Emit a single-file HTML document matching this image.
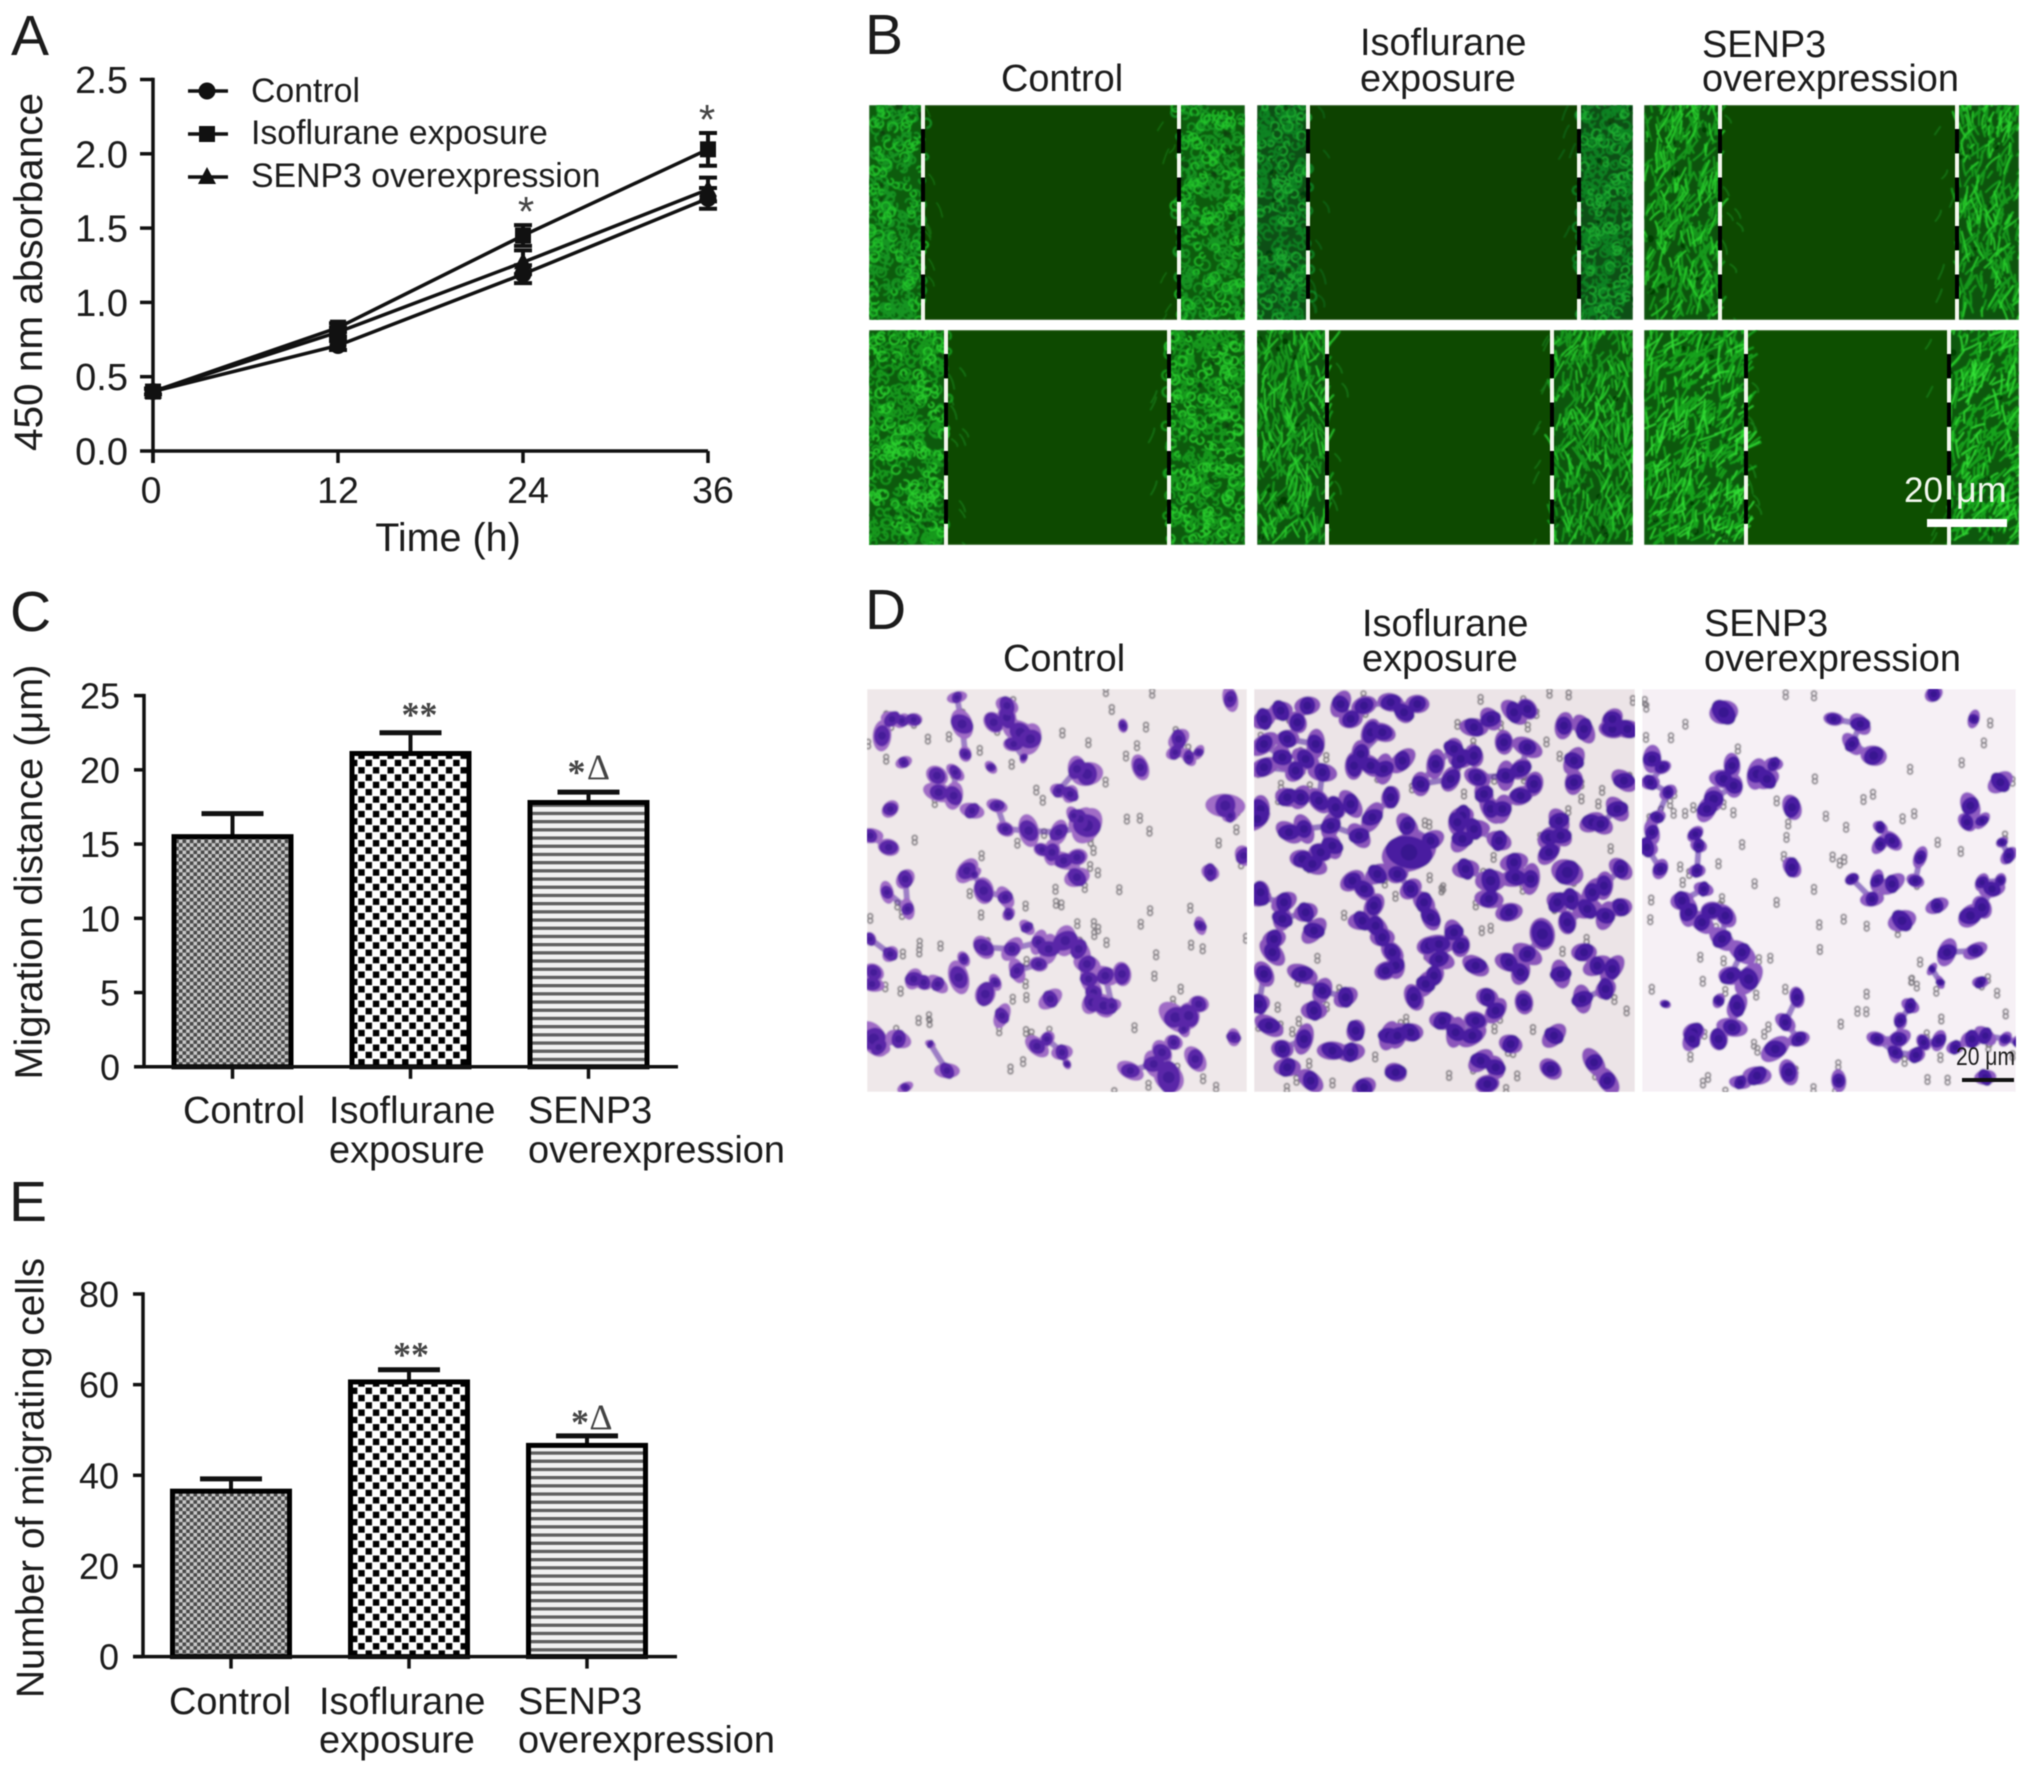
<!DOCTYPE html>
<html lang="en">
<head>
<meta charset="utf-8">
<title>Cell proliferation and migration figure</title>
<style>
html,body{margin:0;padding:0;background:#fff;width:2031px;height:1773px;overflow:hidden}
#figure{display:block;filter:blur(0.55px)}
text{font-family:"Liberation Sans",sans-serif;fill:#1c1c1c}
.letter{font-size:57px}
.head{font-size:37.9px}
.serif{font-family:"Liberation Serif",serif;fill:#444;font-weight:bold}
</style>
</head>
<body>
<svg id="figure" xmlns="http://www.w3.org/2000/svg" width="2031" height="1773" viewBox="0 0 2031 1773">
  <defs>
    <pattern id="fine-check" patternUnits="userSpaceOnUse" width="7.3" height="7.3">
      <rect width="7.3" height="7.3" fill="#c9c9c9"/>
      <rect width="3.65" height="3.65" fill="#484848"/>
      <rect x="3.65" y="3.65" width="3.65" height="3.65" fill="#484848"/>
    </pattern>
    <pattern id="coarse-check" patternUnits="userSpaceOnUse" width="14.6" height="14.6">
      <rect width="14.6" height="14.6" fill="#fff"/>
      <rect x="0.6" y="0.6" width="6.4" height="6.4" fill="#000"/>
      <rect x="7.9" y="7.9" width="6.4" height="6.4" fill="#000"/>
    </pattern>
    <pattern id="stripes" patternUnits="userSpaceOnUse" width="10" height="8.2">
      <rect width="10" height="8.2" fill="#f1f1f1"/>
      <rect width="10" height="3.3" fill="#606060"/>
    </pattern>
    <filter id="soft" x="-2%" y="-2%" width="104%" height="104%"><feGaussianBlur stdDeviation="0.8"/></filter>
    <clipPath id="clip-d1"><rect x="867" y="689" width="380" height="403"/></clipPath>
    <clipPath id="clip-d2"><rect x="1254" y="689" width="381" height="403"/></clipPath>
    <clipPath id="clip-d3"><rect x="1642" y="689" width="374" height="403"/></clipPath>
  </defs>

  <text class="letter" x="11" y="55">A</text>
  <text class="letter" x="865" y="54">B</text>
  <text class="letter" x="10" y="631">C</text>
  <text class="letter" x="865" y="629">D</text>
  <text class="letter" x="9" y="1221">E</text>

  <g id="panel-b">
    <g id="wound-tiles"></g>
    <text class="head" x="1001" y="91">Control</text>
    <text class="head" x="1360" y="55">Isoflurane</text>
    <text class="head" x="1360" y="91">exposure</text>
    <text class="head" x="1702" y="57">SENP3</text>
    <text class="head" x="1702" y="91">overexpression</text>
    <text x="1904" y="502" font-size="35" style="fill:#f2f7ee">20</text>
    <text x="1956" y="502" font-size="36" style="fill:#f2f7ee">μm</text>
    <rect x="1927" y="519" width="80" height="8" fill="#fff"/>
  </g>

  <g id="panel-d">
    <g id="transwell-tiles"></g>
    <text class="head" x="1003" y="671">Control</text>
    <text class="head" x="1362" y="636">Isoflurane</text>
    <text class="head" x="1362" y="671">exposure</text>
    <text class="head" x="1704" y="636">SENP3</text>
    <text class="head" x="1704" y="671">overexpression</text>
    <text x="1956" y="1065" font-size="25" textLength="59" lengthAdjust="spacingAndGlyphs">20 μm</text>
    <rect x="1962" y="1078" width="52" height="4" fill="#111"/>
  </g>

  <g id="chart-a"></g>
  <g id="chart-c"></g>
  <g id="chart-e"></g>
</svg>

<script>
/* ---------- chart data ---------- */
const timeValues = [0, 12, 24, 36];
const absorbanceTicks = [0, 0.5, 1, 1.5, 2, 2.5];
const absorbanceTickLabels = ['0.0', '0.5', '1.0', '1.5', '2.0', '2.5'];
const seriesNames = ['Control', 'Isoflurane exposure', 'SENP3 overexpression'];
const controlMeans = [0.40, 0.71, 1.19, 1.70];
const controlErrors = [0.02, 0.03, 0.06, 0.07];
const isofluraneMeans = [0.40, 0.83, 1.45, 2.03];
const isofluraneErrors = [0.02, 0.03, 0.07, 0.11];
const senp3Means = [0.40, 0.80, 1.27, 1.76];
const senp3Errors = [0.02, 0.03, 0.08, 0.08];
const significantTimes = [24, 36];

const categoryLines = [['Control'], ['Isoflurane', 'exposure'], ['SENP3', 'overexpression']];
const distanceTicks = [0, 5, 10, 15, 20, 25];
const distanceMeans = [15.5, 21.1, 17.8];
const distanceUpper = [17.05, 22.5, 18.5];
const cellTicks = [0, 20, 40, 60, 80];
const cellMeans = [36.5, 60.6, 46.6];
const cellUpper = [39.2, 63.3, 48.7];

const SVGNS = 'http://www.w3.org/2000/svg';
function mk(tag, attrs, parent) {
  const el = document.createElementNS(SVGNS, tag);
  for (const k in attrs) el.setAttribute(k, attrs[k]);
  parent.appendChild(el);
  return el;
}
function axisLine(parent, x1, y1, x2, y2, name, width) {
  const el = mk('line', {x1: x1, y1: y1, x2: x2, y2: y2, stroke: '#111', 'stroke-width': width || 3.5}, parent);
  
  
  return el;
}
function label(parent, str, x, y, size, anchor, name) {
  const el = mk('text', {x: x, y: y, 'font-size': size, 'text-anchor': anchor}, parent);
  el.textContent = str;
  
  
  return el;
}
function rotated(parent, str, x, y, size, len, name) {
  const el = mk('text', {transform: 'translate(' + x + ' ' + y + ') rotate(-90)', 'font-size': size, 'text-anchor': 'middle', textLength: len, lengthAdjust: 'spacingAndGlyphs'}, parent);
  el.textContent = str;
  
  
  return el;
}

/* ---------- panel A ---------- */
function drawLineChart() {
  const root = document.getElementById('chart-a');
  const xS = function (t) { return 153 + t * (708 - 153) / 36; };
  const yS = function (v) { return 451 - v * (451 - 79.5) / 2.5; };

  rotated(root, '450 nm  absorbance', 42, 272, 39.5, 358, 'y-axis-title');
  label(root, 'Time (h)', 448, 551, 39.5, 'middle', 'x-axis-title');

  axisLine(root, 153, yS(2.5) - 1.7, 153, 463, 'y-axis');
  axisLine(root, 153, 451, 708, 451, 'x-axis');

  absorbanceTicks.forEach(function (v, i) {
    axisLine(root, 140, yS(v), 153, yS(v), 'y-tick');
    label(root, absorbanceTickLabels[i], 128, yS(v) + 13.5, 38, 'end', 'y-tick-label');
  });
  timeValues.forEach(function (t) {
    axisLine(root, xS(t), 451, xS(t), 463, 'x-tick');
    label(root, String(t), xS(t) + (t === 0 ? -2 : t === 12 ? 0 : 5), 503, 37.5, 'middle', 'x-tick-label');
  });

  const series = [
    {means: controlMeans, errs: controlErrors, marker: 'circle', name: 'control'},
    {means: senp3Means, errs: senp3Errors, marker: 'triangle', name: 'senp3'},
    {means: isofluraneMeans, errs: isofluraneErrors, marker: 'square', name: 'isoflurane'}
  ];
  function marker(parent, kind, x, y) {
    let m;
    if (kind === 'circle') m = mk('circle', {cx: x, cy: y, r: 8.5, fill: '#111'}, parent);
    else if (kind === 'square') m = mk('rect', {x: x - 8, y: y - 8, width: 16, height: 16, fill: '#111'}, parent);
    else m = mk('polygon', {points: (x - 9) + ',' + (y + 7) + ' ' + (x + 9) + ',' + (y + 7) + ' ' + x + ',' + (y - 10), fill: '#111'}, parent);
    
    
  }
  series.forEach(function (s) {
    const g = mk('g', {}, root);
    
    
    const pts = s.means.map(function (v, i) { return xS(timeValues[i]) + ',' + yS(v); }).join(' ');
    const line = mk('polyline', {points: pts, fill: 'none', stroke: '#111', 'stroke-width': 3.5}, g);
    
    
    s.means.forEach(function (v, i) {
      const x = xS(timeValues[i]);
      const hi = yS(v + s.errs[i]);
      const lo = yS(v - s.errs[i]);
      axisLine(g, x, hi, x, lo, s.name + '-error-bar', 4);
      axisLine(g, x - 9, hi, x + 9, hi, s.name + '-error-cap', 4);
      axisLine(g, x - 9, lo, x + 9, lo, s.name + '-error-cap', 4);
      marker(g, s.marker, x, yS(v));
    });
  });

  significantTimes.forEach(function (t) {
    const i = timeValues.indexOf(t);
    const st = label(root, '*', xS(t) + (t === 36 ? -1 : 3), yS(isofluraneMeans[i] + isofluraneErrors[i]) + 1, 42, 'middle', 'significance-star');
    st.style.fill = '#444';
  });

  const legendKinds = ['circle', 'square', 'triangle'];
  const legendY = [91, 134, 177];
  const legendBase = [102, 144, 187];
  seriesNames.forEach(function (n, i) {
    const g = mk('g', {}, root);
    
    
    axisLine(g, 188, legendY[i], 228, legendY[i], 'legend-line', 3.5);
    marker(g, legendKinds[i], 207, legendY[i]);
    label(g, n, 251, legendBase[i], 33.8, 'start', 'legend-label');
  });
}

/* ---------- panels C / E ---------- */
function drawBarChart(cfg) {
  const root = document.getElementById(cfg.id);
  const yS = function (v) { return cfg.y0 - v * (cfg.y0 - cfg.yTop) / cfg.maxV; };
  const xS = function (i) { return cfg.x0 + i * 178; };
  const fills = ['url(#fine-check)', 'url(#coarse-check)', 'url(#stripes)'];
  const barNames = ['control', 'isoflurane', 'senp3'];

  rotated(root, cfg.title, cfg.titleX, cfg.titleY, cfg.titleSize, cfg.titleLen, 'y-axis-title');

  cfg.means.forEach(function (v, i) {
    const cx = xS(i);
    const top = yS(v);
    const cap = yS(cfg.upper[i]);
    axisLine(root, cx, top, cx, cap, 'error-bar-' + barNames[i], 4);
    axisLine(root, cx - 31, cap, cx + 31, cap, 'error-cap-' + barNames[i], 5);
    const bar = mk('rect', {x: cx - 58.5, y: top, width: 117, height: cfg.y0 - top, fill: fills[i], stroke: '#000', 'stroke-width': 5}, root);
    
    
  });

  axisLine(root, cfg.axisX, cfg.yTop - 1.7, cfg.axisX, cfg.y0, 'y-axis');
  axisLine(root, cfg.axisX - 10, cfg.y0, cfg.axisEnd, cfg.y0, 'x-axis');
  cfg.ticks.forEach(function (v) {
    axisLine(root, cfg.axisX - 10, yS(v), cfg.axisX, yS(v), 'y-tick');
    label(root, String(v), cfg.axisX - 24, yS(v) + 13, 36, 'end', 'y-tick-label');
  });
  cfg.means.forEach(function (v, i) {
    axisLine(root, xS(i), cfg.y0, xS(i), cfg.y0 + 12, 'x-tick');
    categoryLines[i].forEach(function (line, j) {
      label(root, line, cfg.labelX[i], cfg.labelBase[j], 37.9, 'start', 'category-label');
    });
  });

  const a = label(root, '**', xS(1) + cfg.starDx, yS(cfg.upper[1]) + cfg.starOff, 36, 'middle', 'significance-stars');
  a.setAttribute('class', 'serif');
  const capY = yS(cfg.upper[2]);
  const b = label(root, '*', xS(2) + cfg.deltaStarDx, capY + cfg.deltaStarOff, 36, 'middle', 'significance-star');
  b.setAttribute('class', 'serif');
  const c = label(root, 'Δ', xS(2) + cfg.deltaDx, capY + cfg.deltaOff, 36, 'middle', 'significance-delta');
  c.setAttribute('class', 'serif');
  c.style.fontWeight = 'normal';
}

drawLineChart();
drawBarChart({id: 'chart-c', y0: 1066.8, yTop: 695.6, maxV: 25, x0: 232.5, axisX: 144, axisEnd: 678,
  means: distanceMeans, upper: distanceUpper, ticks: distanceTicks,
  title: 'Migration distance (μm)', titleX: 42, titleY: 872, titleSize: 38.5, titleLen: 415,
  labelX: [183, 329, 528], labelBase: [1123, 1162.5],
  starDx: 9, starOff: -6, deltaStarDx: -12, deltaStarOff: -8, deltaDx: 10, deltaOff: -13});
drawBarChart({id: 'chart-e', y0: 1656.6, yTop: 1294, maxV: 80, x0: 231, axisX: 143, axisEnd: 677,
  means: cellMeans, upper: cellUpper, ticks: cellTicks,
  title: 'Number of migrating cells', titleX: 43.5, titleY: 1478, titleSize: 38.8, titleLen: 440,
  labelX: [169, 319, 518], labelBase: [1714, 1752.5],
  starDx: 2, starOff: -3, deltaStarDx: -7, deltaStarOff: -2, deltaDx: 14, deltaOff: -7});

/* ---------- micrograph texture (decorative, deterministic) ---------- */
function prng(seed) {
  return function () {
    seed = (seed + 0x6D2B79F5) | 0;
    let t = Math.imul(seed ^ (seed >>> 15), 1 | seed);
    t = (t + Math.imul(t ^ (t >>> 7), 61 | t)) ^ t;
    return ((t ^ (t >>> 14)) >>> 0) / 4294967296;
  };
}

const woundTiles = [
  {x: 869, y: 105, w: 376, h: 215, l: 923, r: 1179, mode: 0, base: '#0a5c10', mid: '#129420', hi: '#24c42a', gap: '#0a4403', ang: 1.2},
  {x: 1257, y: 105, w: 376, h: 215, l: 1308, r: 1579, mode: 0, base: '#094f14', mid: '#0f8424', hi: '#1fae30', gap: '#0a4203', ang: 1.2},
  {x: 1644, y: 105, w: 375, h: 215, l: 1720, r: 1957, mode: 1, base: '#08520c', mid: '#149a1a', hi: '#2bd42f', gap: '#0a4a04', ang: 1.35},
  {x: 869, y: 330, w: 376, h: 215, l: 946, r: 1169, mode: 0, base: '#0a5a0f', mid: '#149a1c', hi: '#2ad02e', gap: '#0b4a04', ang: 1.3},
  {x: 1257, y: 330, w: 376, h: 215, l: 1327, r: 1552, mode: 1, base: '#09540d', mid: '#14981a', hi: '#2ad02d', gap: '#0b4a05', ang: 1.45},
  {x: 1644, y: 330, w: 375, h: 215, l: 1746, r: 1949, mode: 2, base: '#08580c', mid: '#16a41a', hi: '#33e035', gap: '#0c4f06', ang: 1.05}
];

function strokes(rand, t, x0, x1, count, lenMin, lenMax) {
  let d = '';
  for (let i = 0; i < count; i++) {
    const x = x0 + rand() * (x1 - x0);
    const y = t.y + rand() * t.h;
    if (t.mode === 0) {
      const r = 2.5 + rand() * 2.5;
      const a = rand() * 6.28;
      d += 'M' + x.toFixed(1) + ' ' + y.toFixed(1) + 'a' + r.toFixed(1) + ' ' + r.toFixed(1) + ' 0 1 1 ' + (Math.cos(a) * r).toFixed(1) + ' ' + (Math.sin(a) * r).toFixed(1);
    } else {
      const a = t.ang + (rand() - 0.5) * 1.5;
      const len = lenMin + rand() * (lenMax - lenMin);
      const dx = Math.cos(a) * len;
      const dy = -Math.sin(a) * len;
      d += 'M' + x.toFixed(1) + ' ' + y.toFixed(1) + 'q' + (dx / 2 + (rand() - 0.5) * 4).toFixed(1) + ' ' + (dy / 2 + (rand() - 0.5) * 4).toFixed(1) + ' ' + dx.toFixed(1) + ' ' + dy.toFixed(1);
    }
  }
  return d;
}

function drawWoundTiles() {
  const root = document.getElementById('wound-tiles');
  const defs = document.querySelector('defs');
  woundTiles.forEach(function (t, idx) {
    const rand = prng(101 + idx * 37);
    const clip = mk('clipPath', {id: 'clip-w' + idx}, defs);
    mk('rect', {x: t.x, y: t.y, width: t.w, height: t.h}, clip);
    const g = mk('g', {'clip-path': 'url(#clip-w' + idx + ')'}, root);
    
    
    const soft = mk('g', {filter: 'url(#soft)'}, g);
    mk('rect', {x: t.x, y: t.y, width: t.w, height: t.h, fill: t.gap}, soft);
    [[t.x, t.l], [t.r, t.x + t.w]].forEach(function (band) {
      const area = (band[1] - band[0]) * t.h;
      mk('rect', {x: band[0], y: t.y, width: band[1] - band[0], height: t.h, fill: t.base}, soft);
      mk('path', {d: strokes(rand, t, band[0], band[1], area / 58, 8, 20), fill: 'none', stroke: t.mid, 'stroke-width': 1.9}, soft);
      mk('path', {d: strokes(rand, t, band[0], band[1], area / 150, 9, 22), fill: 'none', stroke: t.hi, 'stroke-width': 1.4}, soft);
      for (let k = 0; k < area / 1500; k++) {
        mk('circle', {cx: band[0] + rand() * (band[1] - band[0]), cy: t.y + rand() * t.h, r: 1.5 + rand() * 2.5, fill: '#053404', opacity: 0.7}, soft);
      }
    });
    /* stray migrating cells near the wound edges */
    let stray = '';
    for (let i = 0; i < 14; i++) {
      const onLeft = rand() < 0.5;
      const sx = onLeft ? t.l + rand() * 18 : t.r - rand() * 18;
      const sy = t.y + rand() * t.h;
      stray += 'M' + sx.toFixed(1) + ' ' + sy.toFixed(1) + 'q' + ((onLeft ? 4 : -4) + rand() * 4).toFixed(1) + ' 5 ' + ((onLeft ? 6 : -6)).toFixed(1) + ' ' + (8 + rand() * 8).toFixed(1);
    }
    mk('path', {d: stray, fill: 'none', stroke: t.hi, 'stroke-width': 1.3, opacity: 0.35}, soft);
    [t.l, t.r].forEach(function (x) {
      const k = mk('line', {x1: x, y1: t.y, x2: x, y2: t.y + t.h, stroke: '#000', 'stroke-width': 4, 'stroke-dasharray': '24 24.5', 'stroke-dashoffset': -24}, g);
      
      
      const w = mk('line', {x1: x, y1: t.y, x2: x, y2: t.y + t.h, stroke: '#f4f6ee', 'stroke-width': 4, 'stroke-dasharray': '24 24.5'}, g);
      
      
    });
  });
}

/* Approximate cell clusters traced from each transwell micrograph (x,y,radius at 3x crop) */
const transwellCells1 = '45,140,22;75,90,18;105,95,15;140,92,16;110,220,14;270,25,14;285,105,25;295,195,15;210,260,22;215,310,22;260,320,22;265,250,15;315,365,18;380,100,22;420,85,22;420,50,20;460,130,26;490,150,26;440,165,18;470,205,10;372,235,12;660,255,28;630,240,22;575,305,16;610,315,18;390,350,16;415,420,17;485,425,24;575,430,20;660,410,32;640,390,20;620,380,15;525,482,16;555,490,20;590,515,20;630,505,20;630,565,22;300,545,22;320,555,12;350,605,24;415,625,18;425,675,14;115,570,20;122,660,16;60,610,16;70,360,18;65,475,20;10,440,18;480,715,14;350,775,22;435,780,20;515,760,18;545,780,22;595,755,26;635,780,22;660,825,22;665,870,20;680,910,20;675,940,22;710,950,24;735,950,16;715,860,22;765,855,22;515,825,18;450,845,18;275,865,24;290,810,14;355,915,24;385,880,14;550,930,20;405,980,18;140,870,20;170,880,18;212,885,17;20,850,20;15,885,18;70,795,17;10,750,14;925,985,28;965,980,26;995,945,20;950,1020,14;1075,350,28;1090,380,15;1130,500,20;1030,550,18;1000,710,14;935,150,20;925,190,16;965,205,15;995,190,12;820,235,20;768,110,12;1090,30,18;20,1050,30;35,1075,18;95,1050,20;510,1072,20;540,1050,16;585,1090,18;600,1125,10;240,1145,18;190,1065,9;115,1195,12;790,1145,20;860,1125,22;885,1090,22;920,1060,18;905,1165,32;985,1110,22;1100,1045,16';
const transwellCells2 = '30,90;80,65;130,100;160,50;260,45;290,90;330,50;410,40;450,70;490,45;185,165;100,150;30,165;85,205;30,235;125,245;155,210;350,130;385,130;320,195;350,230;300,230;390,240;445,215;660,115;710,90;600,180;545,225;500,285;590,270;620,210;660,200;750,160;820,175;800,240;755,260;670,265;840,285;800,320;820,60;780,70;930,110;990,120;960,215;960,280;1075,120;1120,120;1075,90;1110,275;205,250;195,335;245,355;140,325;290,345;100,325;355,385;410,325;625,380;610,400;690,315;710,360;745,360;660,420;735,455;625,450;915,395;885,445;920,440;885,490;1015,400;1040,405;1090,360;20,360;10,390;105,430;150,420;230,410;315,440;460,410;530,455;465,490,45;145,510;200,490;235,470;175,525;295,575;330,600;370,555;430,555;470,600;510,640;530,685;635,540;710,575,26;705,630;765,670;780,520;785,565;830,570;940,550,30;1050,590;1100,540;1015,610;15,625;90,640;85,690;155,670;180,725;360,650;325,695;365,710;385,745;20,610;60,750;55,790;600,730;620,770;525,770;555,765;555,810;665,830;865,735,30;820,795;910,640;950,630;1055,680;1100,655;1000,660;940,700;990,790;1030,830;1075,840;1055,900;985,930;920,855;415,790;425,830;395,845;145,855;205,905;275,925;305,1025;180,965;540,860;515,885;480,925;700,925;725,965;800,850;765,820;810,940;15,945;30,855;565,995;605,1030;665,995;655,1040;85,1080;150,1050;100,1135;170,1175;45,1010;290,1090;235,1085;405,1040;470,1030;430,1040;680,1115;725,1135;700,1185;770,1065;425,1150;330,1195;1020,1120;1060,1175;900,1040;890,1140';
const transwellCells3 = '245,70,28;30,210;60,235,16;25,280,18;78,310,16;45,385,16;30,430,18;15,475,20;55,540,18;575,90,16;655,105,20;630,165,18;695,200,24;270,230,20;245,270;275,290;215,330,24;195,360;345,255,24;375,270;395,225,16;450,355,22;160,435,16;170,470,16;165,545,16;450,535,20;185,600,16;120,635;140,670;180,700;210,665;250,680;240,750;300,790;265,860;320,870,26;285,950;270,1015;230,1050;230,935,14;155,1030,22;150,1050,20;70,945,10;465,925,18;430,1000,18;470,1050,18;400,1080,24;345,1160,22;295,1180,16;440,1150,22;590,1175,18;1075,280,22;985,350,22;975,400,18;1020,395,14;715,465,16;750,455,18;715,415,14;835,505,16;820,575,16;705,575,16;750,585,20;630,570,14;690,630,18;780,695,24;885,650,18;985,680,24;1020,655,22;1050,600,20;1020,580,16;1075,575,14;1000,785,18;915,790,22;1080,460,12;1100,500,16;1015,880,14;895,880,10;870,840,10;805,950,16;775,995,16;770,1050,20;705,1050,17;760,1090,17;822,1098,18;845,1060,16;890,1055,17;990,1050,20;1030,1040,18;1090,1050,14;1130,1060,14;940,1075,16;1030,1165,18;875,15,18;995,90,14';

const transwellTiles = [
  {x: 867, y: 689, w: 380, h: 403, cells: transwellCells1, clip: 'clip-d1', bg: '#efe8ea', core: '#5a27a8', halo: '#a06cc6', nuc: '#34128a', seed: 11},
  {x: 1254, y: 689, w: 381, h: 403, cells: transwellCells2, clip: 'clip-d2', bg: '#ece4e7', core: '#4a1ca0', halo: '#8b55bb', nuc: '#2c0d82', seed: 23},
  {x: 1642, y: 689, w: 374, h: 403, cells: transwellCells3, clip: 'clip-d3', bg: '#f6f0f5', core: '#4a1ca2', halo: '#8f5cc2', nuc: '#2a0c82', seed: 37}
];

function drawTranswellTiles() {
  const root = document.getElementById('transwell-tiles');
  transwellTiles.forEach(function (t) {
    const rand = prng(t.seed);
    const g = mk('g', {'clip-path': 'url(#' + t.clip + ')'}, root);
    
    
    const soft = mk('g', {filter: 'url(#soft)'}, g);
    mk('rect', {x: t.x, y: t.y, width: t.w, height: t.h, fill: t.bg}, soft);
    let pores = '';
    for (let i = 0; i < 105; i++) {
      const px = t.x + rand() * t.w;
      const py = t.y + rand() * t.h;
      pores += 'M' + (px - 2.4).toFixed(1) + ' ' + py.toFixed(1) + 'a2.4 2.4 0 1 0 4.8 0a2.4 2.4 0 1 0 -4.8 0';
      pores += 'M' + (px - 2.4).toFixed(1) + ' ' + (py + 4.6).toFixed(1) + 'a2.4 2.4 0 1 0 4.8 0a2.4 2.4 0 1 0 -4.8 0';
    }
    mk('path', {d: pores, fill: 'none', stroke: '#56535a', 'stroke-width': 1.6, opacity: 0.8}, soft);
    const list = t.cells.split(';').map(function (s) {
      const p = s.split(',').map(Number);
      return {x: t.x + p[0] / 3, y: t.y + p[1] / 3, r: 1.22 * (p[2] || 22) / 3};
    });
    let proc = '';
    list.forEach(function (c, i) {
      const n = list[i + 1];
      if (n && Math.hypot(n.x - c.x, n.y - c.y) < 32) proc += 'M' + c.x.toFixed(1) + ' ' + c.y.toFixed(1) + 'L' + n.x.toFixed(1) + ' ' + n.y.toFixed(1);
    });
    mk('path', {d: proc, fill: 'none', stroke: t.core, 'stroke-width': 6, opacity: 0.55}, soft);
    list.forEach(function (c) {
      const rot = (rand() * 180).toFixed(0);
      const stretch = 1.1 + rand() * 0.5;
      const tf = 'rotate(' + rot + ' ' + c.x.toFixed(1) + ' ' + c.y.toFixed(1) + ')';
      mk('ellipse', {cx: c.x, cy: c.y, rx: c.r * 1.15 * stretch, ry: c.r * 1.05, fill: t.halo, transform: tf}, soft);
    });
    list.forEach(function (c) {
      const rot = (rand() * 180).toFixed(0);
      const stretch = 1 + rand() * 0.3;
      const tf = 'rotate(' + rot + ' ' + c.x.toFixed(1) + ' ' + c.y.toFixed(1) + ')';
      mk('ellipse', {cx: c.x, cy: c.y, rx: c.r * stretch, ry: c.r * 0.88, fill: t.core, transform: tf}, soft);
      mk('circle', {cx: c.x, cy: c.y, r: c.r * 0.45, fill: t.nuc, opacity: 0.55}, soft);
    });
  });
}

drawWoundTiles();
drawTranswellTiles();
</script>
</body>
</html>
